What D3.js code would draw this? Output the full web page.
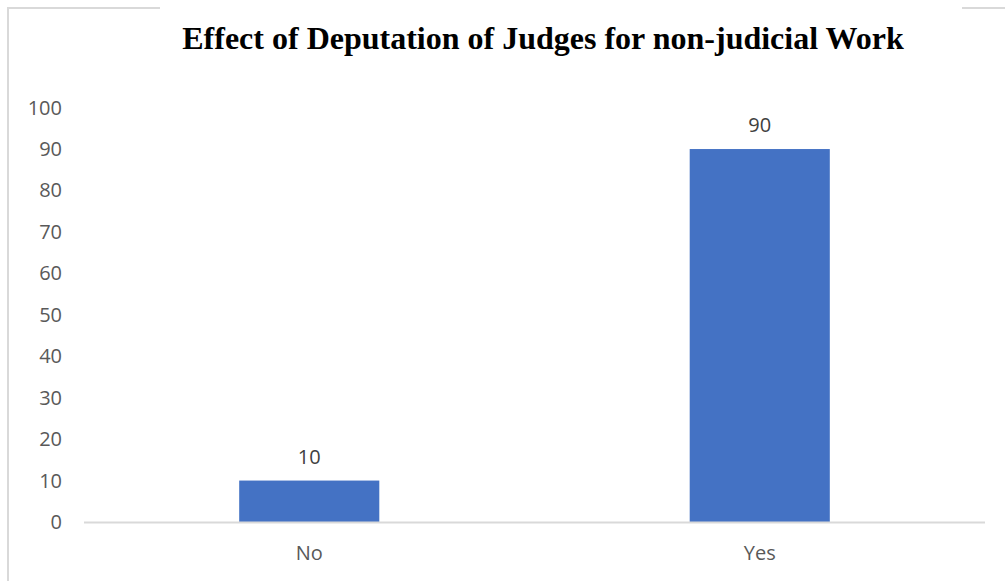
<!DOCTYPE html>
<html><head><meta charset="utf-8">
<script src="https://cdn.jsdelivr.net/npm/d3@7"></script>
<style>body{margin:0;background:#fff;}svg{display:block;}</style>
</head><body>
<script>
const categories = ["No", "Yes"];
const values = [10, 90];
const yTicks = [0, 10, 20, 30, 40, 50, 60, 70, 80, 90, 100];
const title = "Effect of Deputation of Judges for non-judicial Work";

const W = 1005, H = 581;
const svg = d3.select("body").append("svg").attr("width", W).attr("height", H);
svg.append("rect").attr("width", W).attr("height", H).attr("fill", "#fff");

// frame fragments
svg.append("path").attr("d", "M8,581 L8,8 L160,8").attr("fill", "none").attr("stroke", "#d9d9d9").attr("stroke-width", 2);
svg.append("path").attr("d", "M962,8 L1005,8").attr("fill", "none").attr("stroke", "#d9d9d9").attr("stroke-width", 2);

const x = d3.scaleBand().domain(categories).range([84, 985]).paddingInner(0.689).paddingOuter(0.3445);
const y = d3.scaleLinear().domain([0, 100]).range([522, 107.6]);

const sans = "Open Sans, Liberation Sans, sans-serif";

// y tick labels
svg.append("g").selectAll("text").data(yTicks).join("text")
  .attr("x", 62).attr("y", d => y(d)).attr("dy", "0.35em")
  .attr("text-anchor", "end").attr("font-family", sans)
  .attr("font-size", 20).attr("fill", "#595959").text(d => d);

// bars
svg.append("g").selectAll("rect").data(values).join("rect")
  .attr("x", (d, i) => x(categories[i])).attr("width", x.bandwidth())
  .attr("y", d => y(d)).attr("height", d => y(0) - y(d)).attr("fill", "#4472c4");

// baseline
svg.append("line").attr("x1", 84).attr("x2", 985).attr("y1", y(0) + 0.5).attr("y2", y(0) + 0.5)
  .attr("stroke", "#d9d9d9").attr("stroke-width", 2);

// value labels
svg.append("g").selectAll("text").data(values).join("text")
  .attr("x", (d, i) => x(categories[i]) + x.bandwidth() / 2).attr("y", d => y(d) - 24).attr("dy", "0.35em")
  .attr("text-anchor", "middle").attr("font-family", sans)
  .attr("font-size", 20).attr("fill", "#404040").text(d => d);

// category labels
svg.append("g").selectAll("text").data(categories).join("text")
  .attr("x", d => x(d) + x.bandwidth() / 2).attr("y", 553).attr("dy", "0.35em")
  .attr("text-anchor", "middle").attr("font-family", sans)
  .attr("font-size", 20).attr("fill", "#595959").text(d => d);

// title
svg.append("text").attr("x", 543).attr("y", 49).attr("text-anchor", "middle")
  .attr("font-family", "Liberation Serif, Times New Roman, serif").attr("font-weight", "bold")
  .attr("font-size", 32).attr("fill", "#000").text(title);
</script>
</body></html>
